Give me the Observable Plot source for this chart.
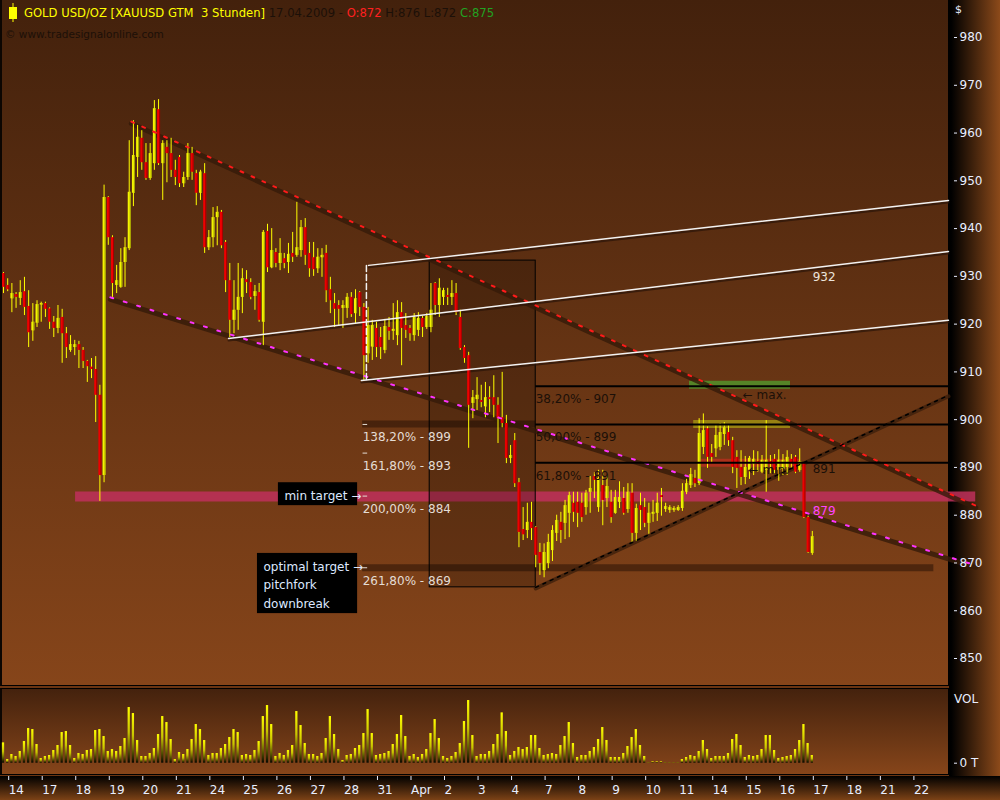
<!DOCTYPE html>
<html><head><meta charset="utf-8">
<script src="https://cdn.jsdelivr.net/npm/d3@7"></script>
<script src="https://cdn.jsdelivr.net/npm/@observablehq/plot@0.6"></script>
<style>
body{margin:0;background:#6b3512;}
#wrap{position:relative;width:1000px;height:800px;overflow:hidden;background:#6b3512;font-family:"DejaVu Sans",sans-serif;}
.bg{position:absolute;box-sizing:border-box;}
#main-bg{left:0;top:0;width:949px;height:686px;background:linear-gradient(#43210c,#86451a);border-left:2px solid #0c0602;border-right:1px solid #000;border-bottom:1px solid #000;}
#vol-bg{left:0;top:688px;width:949px;height:87px;background:linear-gradient(#44220d,#86451a);border:1px solid #000;border-left:2px solid #0c0602;}
#axis-col{left:949px;top:0;width:51px;height:777px;background:linear-gradient(to right,#000 4%,#8c4a1a 100%);}
#axis-row{left:0;top:776px;width:1000px;height:24px;background:linear-gradient(#000,#7c4216);}
.plot{position:absolute;left:0;}
.lbl{position:absolute;color:#e8eeff;font-size:12px;white-space:pre;}
#t1{position:absolute;left:24px;top:6px;font-size:11.6px;white-space:pre;}
#t2{position:absolute;left:5px;top:28px;font-size:10.5px;color:#1c1008;white-space:pre;}
#icon{position:absolute;left:8px;top:3px;}
</style></head>
<body><div id="wrap">
<div class="bg" id="main-bg"></div>
<div class="bg" id="vol-bg"></div>
<div class="bg" id="axis-col"></div>
<div class="bg" id="axis-row"></div>
</div>
<script>
// ---------- data ----------
const dayLabels = ["14","17","18","19","20","21","24","25","26","27","28","31","Apr","2","3","4","7","8","9","10","11","14","15","16","17","18","21","22"];
const priceTicks = [850,860,870,880,890,900,910,920,930,940,950,960,970,980];

const open = [
930.6,928.1,925.3,926.2,925.4,926.8,923.7,918.6,920.2,924.0,
924.3,923.2,920.4,919.1,921.4,918.0,914.5,915.1,915.7,914.5,
912.2,911.0,910.5,905.1,888.3,946.5,938.1,928.1,927.7,932.9,
935.8,947.4,954.9,958.9,953.8,950.5,953.6,964.9,953.6,957.0,
955.7,952.2,954.9,949.4,950.7,955.7,951.5,947.4,951.5,936.0,
938.1,942.3,943.4,937.1,929.1,920.8,922.9,925.6,929.3,928.7,
925.8,926.6,920.4,939.4,931.8,935.0,932.7,933.7,932.9,934.8,
934.4,935.4,940.2,934.8,933.9,931.6,933.9,934.8,927.2,924.3,
923.9,923.3,923.3,925.6,922.2,926.6,923.5,913.8,915.2,919.1,
917.2,914.5,919.3,918.5,917.6,922.4,919.7,919.1,917.6,918.7,
921.2,919.3,919.3,928.5,923.9,925.6,926.0,925.6,926.4,921.4,
915.1,913.4,903.4,904.2,904.0,902.7,904.6,904.6,903.0,900.4,
899.2,891.9,895.6,886.8,877.0,876.8,878.5,877.4,872.2,868.4,
869.9,872.6,876.2,878.5,878.3,880.4,882.5,882.7,882.5,881.6,
884.8,888.1,881.6,886.2,883.5,882.7,880.4,882.7,883.5,881.2,
884.6,876.2,882.0,881.6,878.3,880.2,880.4,884.1,881.2,881.0,
881.0,881.0,881.4,884.8,886.2,887.7,886.6,894.2,898.1,892.9,
893.9,894.2,896.9,897.3,895.6,892.1,890.0,887.9,889.4,890.6,
891.2,889.0,889.4,891.2,891.7,889.4,889.6,890.0,891.7,892.1,
889.4,890.8,879.5,872.0];
const high = [
930.8,929.5,928.5,926.6,929.1,929.8,927.0,924.3,924.9,924.6,
924.6,923.4,921.6,923.9,923.1,919.3,917.6,916.6,916.4,915.1,
912.4,912.8,913.2,907.2,949.1,946.7,938.5,932.3,935.8,938.1,
958.4,962.6,961.6,960.5,957.8,957.8,966.8,967.0,958.4,958.4,
958.9,954.3,955.3,951.8,957.8,957.0,952.2,952.2,953.6,939.6,
944.4,944.6,943.8,937.5,932.7,929.1,932.7,931.6,931.2,929.5,
928.1,928.5,939.6,940.9,940.0,935.8,937.9,934.8,936.9,939.2,
945.5,941.7,942.1,937.1,937.1,935.8,935.8,936.5,929.8,926.4,
924.9,924.9,926.4,926.6,927.2,926.8,924.3,923.5,920.8,920.4,
919.3,921.0,921.4,924.3,924.9,924.5,922.2,919.7,922.2,922.4,
921.6,922.2,928.5,928.7,929.5,927.5,927.5,929.1,928.5,922.9,
915.5,914.1,906.1,908.8,907.2,907.8,906.9,909.2,904.6,909.9,
900.9,894.6,897.1,887.7,881.6,882.5,882.7,877.6,874.1,874.0,
876.0,877.8,880.0,880.6,883.1,884.8,884.8,884.8,884.6,885.2,
888.1,888.9,889.4,889.4,888.3,885.2,885.2,887.0,885.8,886.6,
886.6,882.3,884.6,883.5,882.5,883.1,884.6,885.6,882.5,882.0,
881.8,882.0,886.6,887.5,889.8,889.4,900.2,901.2,898.5,894.8,
899.0,899.2,899.4,898.8,896.3,893.5,893.5,892.3,892.3,893.5,
893.3,892.5,899.8,892.5,892.7,893.7,892.7,893.5,892.7,892.5,
893.9,891.0,879.8,876.6];
const low = [
926.4,926.8,922.4,923.3,923.9,921.8,915.1,916.4,919.3,920.4,
921.4,918.9,917.2,918.0,911.8,912.8,914.1,913.4,910.7,910.7,
907.8,908.6,899.4,882.9,886.8,936.5,925.6,926.4,927.5,927.7,
935.4,944.6,950.7,952.2,950.1,950.1,952.2,953.2,945.9,949.6,
950.7,949.0,948.6,948.6,950.1,950.1,944.8,945.9,934.8,935.4,
936.0,936.4,935.8,926.6,917.2,918.0,918.7,922.2,926.4,925.1,
922.9,920.4,915.5,930.8,931.6,931.8,931.2,931.6,930.6,932.9,
934.0,934.0,932.3,929.8,930.0,930.6,929.8,924.5,922.2,919.3,
919.5,919.1,921.2,921.4,920.0,921.6,908.2,911.8,912.4,913.0,
912.6,913.8,916.6,916.6,915.5,911.3,917.0,916.4,916.4,917.4,
917.2,918.9,918.2,921.8,921.4,923.9,923.9,923.9,921.8,914.5,
911.8,894.0,900.2,901.9,902.5,900.4,901.5,900.4,895.0,898.3,
890.8,890.8,885.8,873.2,874.7,875.1,874.7,869.0,867.4,866.9,
868.8,870.3,874.5,874.1,874.9,875.3,878.5,877.4,878.5,880.0,
880.4,883.5,880.6,877.8,881.6,878.3,880.2,881.4,880.0,880.4,
874.1,874.5,876.8,877.4,876.0,878.5,878.7,879.8,880.6,880.4,
880.6,880.8,880.8,884.3,885.6,885.8,886.2,892.7,889.8,891.0,
892.1,893.5,894.6,894.4,888.7,885.6,886.2,886.4,887.5,888.3,
889.0,888.7,884.8,888.7,888.7,887.1,888.3,888.3,889.6,888.7,
889.0,879.3,872.0,871.6];
const close = [
927.7,927.2,926.4,925.6,926.6,923.5,918.2,920.4,924.1,924.3,
923.1,920.4,919.1,921.2,918.0,915.1,915.7,915.7,914.5,912.2,
911.1,910.5,905.1,888.3,946.5,938.1,928.5,929.1,932.9,936.0,
947.6,955.3,959.1,953.8,950.5,955.7,965.1,953.6,957.8,955.7,
952.2,950.7,949.4,950.7,955.7,951.8,947.4,951.8,936.0,938.1,
942.3,943.4,936.4,929.1,920.8,922.9,925.6,929.5,928.7,925.6,
926.8,920.8,939.2,931.8,935.4,932.7,934.8,932.7,934.6,934.0,
936.0,940.2,934.4,931.6,931.4,934.0,934.4,927.0,924.9,923.1,
923.1,923.9,925.6,922.0,925.3,923.5,913.4,919.7,919.7,915.1,
915.1,919.5,918.5,918.9,922.4,919.1,918.7,918.0,921.4,921.2,
919.3,921.6,922.9,923.9,927.5,927.0,925.6,926.4,922.4,914.9,
912.8,903.0,904.6,905.1,903.6,904.6,904.2,903.0,900.2,899.2,
891.9,892.5,886.6,876.4,875.9,878.5,877.2,871.6,869.9,872.2,
874.3,876.8,878.9,876.8,882.0,884.1,880.6,880.4,879.5,884.6,
885.6,887.3,887.7,883.1,886.0,879.5,883.7,883.7,880.4,884.8,
876.2,881.4,881.0,878.3,880.4,880.6,882.5,883.7,881.8,881.6,
881.4,881.6,885.0,886.6,888.5,886.6,897.1,897.7,892.1,892.1,
896.7,897.3,898.3,895.6,890.0,889.8,887.9,890.0,891.9,891.7,
890.6,891.5,891.5,890.6,889.4,891.5,891.5,892.1,891.0,889.0,
891.2,879.5,872.2,875.5];
const volume = [
61,11,26,20,35,65,104,101,56,14,
20,23,38,53,92,95,53,14,29,26,
38,41,98,101,80,35,41,35,50,74,
167,149,68,20,20,29,44,86,140,122,
71,11,32,26,41,71,116,101,68,23,
29,29,44,56,77,101,92,23,26,23,
38,65,140,173,116,20,29,23,38,53,
155,113,59,26,26,20,29,74,140,86,
41,8,23,26,44,53,89,161,89,23,
26,29,35,56,86,143,80,20,26,17,
26,41,89,131,74,20,14,20,32,59,
125,188,83,20,26,26,35,56,86,151,
95,23,35,47,41,47,83,83,44,23,
26,29,26,53,80,122,59,17,23,23,
35,47,71,107,68,17,17,17,29,50,
77,101,53,20,2,4,4,4,2,2,
2,2,11,17,23,20,35,68,41,14,
20,20,20,29,71,86,53,17,23,20,
23,41,83,83,38,14,17,20,23,41,
68,116,59,23];

// drawing lines, in candle index / price units
const upperTrend = [[30.5, 962.4], [232.0, 882.0]];
const lowerTrend = [[25.5, 925.6], [232.0, 869.5]];
const forkUpper  = [[87.1, 932.3], [225.5, 945.9]];
const forkMedian = [[53.7, 917.0], [225.5, 935.2]];
const forkLower  = [[85.4, 908.2], [225.5, 920.8]];
const forkHandle = [[86.6, 932.3], [86.6, 908.2]];
const riseLine   = [[127.0, 864.9], [225.5, 905.1]];
const rangeBox   = [{x1: 101.7, x2: 127.0, y1: 864.9, y2: 933.3}];
const fibRetrace = [{pct: "38,20%", level: 907}, {pct: "50,00%", level: 899}, {pct: "61,80%", level: 891}];
const fibExt     = [{pct: "138,20%", level: 899}, {pct: "161,80%", level: 893}, {pct: "200,00%", level: 884}, {pct: "261,80%", level: 869}];
const minTarget  = [{level: 883.9, from: 17.2, to: 232.0}];
const shadeBands = [{level: 899.1, from: 85.7, to: 127.0}, {level: 869.0, from: 85.7, to: 222.0}];
const zones      = [{kind: "max", level: 907.3, from: 163.7, to: 187.8}, {kind: "mid", level: 899.1, from: 164.7, to: 187.8}, {kind: "min", level: 891.0, from: 165.9, to: 190.2}];
const callouts   = [{text: "min target →", x1: 65.6, x2: 84.5, y1: 882.0, y2: 886.8},
                    {text: "optimal target →\npitchfork\ndownbreak", x1: 60.6, x2: 84.5, y1: 859.4, y2: 872.0}];
const darkNotes  = [{text: "← max.", x: 176.4, y: 905.1}, {text: "← min.", x: 177.8, y: 889.4}, {text: "891", x: 193.1, y: 889.6}];
const lightNotes = [{text: "932", x: 193.1, y: 929.8}];
const pinkNotes  = [{text: "879", x: 193.1, y: 880.8}];

// ---------- build ----------
const candles = open.map((o, i) => ({i, o, h: high[i], l: low[i], c: close[i]}));
const vols = volume.map((v, i) => ({i, v}));
const dayTicks = dayLabels.map((_, k) => 1 + 8 * k);
const FONT = '"DejaVu Sans", sans-serif';
const AX = "#e8eeff";
const xDomain = [0, 225.5];
const pt = {x: d => d[0], y: d => d[1]};

const main = Plot.plot({
  width: 1000, height: 688,
  marginLeft: 3, marginRight: 52, marginTop: 0, marginBottom: 3,
  x: {domain: xDomain, axis: null},
  y: {domain: [844.35, 987.75], axis: null},
  style: {background: "transparent", fontFamily: FONT, fontSize: "11px", overflow: "visible"},
  marks: [
    Plot.ruleY(minTarget, {y: "level", x1: "from", x2: "to", stroke: "#c0305c", strokeOpacity: 0.85, strokeWidth: 10}),
    Plot.ruleY(shadeBands, {y: "level", x1: "from", x2: "to", stroke: "#2a1206", strokeOpacity: 0.55, strokeWidth: 7}),
    Plot.ruleY(zones, {y: "level", x1: "from", x2: "to", strokeWidth: 8, strokeOpacity: 0.85,
      stroke: d => ({max: "#52922a", mid: "#a08e12", min: "#b4301c"})[d.kind]}),
    Plot.rect(rangeBox, {x1: "x1", x2: "x2", y1: "y1", y2: "y2", fill: "#000", fillOpacity: 0.2, stroke: "#000", strokeWidth: 1}),
    // shadows of trend lines
    Plot.line(upperTrend, {...pt, stroke: "#351a09", strokeOpacity: 0.8, strokeWidth: 5, dy: 2}),
    Plot.line(lowerTrend, {...pt, stroke: "#351a09", strokeOpacity: 0.8, strokeWidth: 5, dy: 2}),
    Plot.line(riseLine, {...pt, stroke: "#3d1f0b", strokeOpacity: 0.8, strokeWidth: 4, dy: 1}),
    Plot.line(forkUpper, {...pt, stroke: "#2a1408", strokeOpacity: 0.7, strokeWidth: 2, dy: 2}),
    Plot.line(forkMedian, {...pt, stroke: "#2a1408", strokeOpacity: 0.7, strokeWidth: 2, dy: 2}),
    Plot.line(forkLower, {...pt, stroke: "#2a1408", strokeOpacity: 0.7, strokeWidth: 2, dy: 2}),
    // candles
    Plot.ruleX(candles, {x: "i", y1: "l", y2: "h", stroke: "#ffff00", strokeWidth: 1}),
    Plot.ruleX(candles, {x: "i", y1: "o", y2: "c", strokeWidth: 3, stroke: d => d.c >= d.o ? "#f4f400" : "#ee0000"}),
    Plot.ruleX(candles, {x: "i", y1: "o", y2: "c", strokeWidth: 1, dx: 1, stroke: d => d.c >= d.o ? "#9c9c00" : "#a00000"}),
    // lines on top
    Plot.line(upperTrend, {...pt, stroke: "#ff1a1a", strokeWidth: 2, strokeDasharray: "3,9"}),
    Plot.line(lowerTrend, {...pt, stroke: "#ff33ff", strokeWidth: 2, strokeDasharray: "3,11"}),
    Plot.line(riseLine, {...pt, stroke: "#000", strokeWidth: 1.5, strokeDasharray: "3,5"}),
    Plot.line(forkUpper, {...pt, stroke: "#f2f2f2", strokeWidth: 1.5}),
    Plot.line(forkMedian, {...pt, stroke: "#f2f2f2", strokeWidth: 1.5}),
    Plot.line(forkLower, {...pt, stroke: "#f2f2f2", strokeWidth: 1.5}),
    Plot.line(forkHandle, {...pt, stroke: "#f2f2f2", strokeWidth: 1.5, strokeDasharray: "6,3"}),
    Plot.ruleY(fibRetrace, {y: "level", x1: rangeBox[0].x2, x2: xDomain[1], stroke: "#000", strokeWidth: 2}),
    // labels
    Plot.text(fibRetrace, {x: rangeBox[0].x2, y: "level", text: d => `${d.pct} - ${d.level}`, textAnchor: "start", dy: 13, fill: "#1c1008", fontSize: 12}),
    Plot.ruleY(fibExt, {y: "level", x1: 85.8, x2: 86.9, stroke: "#e4dcd4", strokeWidth: 1}),
    Plot.text(fibExt, {x: 85.7, y: "level", text: d => `${d.pct} - ${d.level}`, textAnchor: "start", dy: 13, fill: "#e4dcd4", fontSize: 12}),
    Plot.rect(callouts, {x1: "x1", x2: "x2", y1: "y1", y2: "y2", fill: "#000"}),
    Plot.text(callouts, {x: "x1", y: d => (d.y1 + d.y2) / 2, text: "text", textAnchor: "start", dx: 6, lineHeight: 1.55, fill: "#dde8ff", fontSize: 12}),
    Plot.text(darkNotes, {x: "x", y: "y", text: "text", textAnchor: "start", fill: "#1c1008", fontSize: 12}),
    Plot.text(lightNotes, {x: "x", y: "y", text: "text", textAnchor: "start", fill: "#ece4dc", fontSize: 12}),
    Plot.text(pinkNotes, {x: "x", y: "y", text: "text", textAnchor: "start", fill: "#ff44ff", fontSize: 12}),
    Plot.axisY(priceTicks, {anchor: "right", tickSize: 3, tickPadding: 3, dx: 5, color: AX, fontSize: 12, label: null})
  ]
});
main.classList.add("plot");
main.style.top = "0px";

const volDefs = () => {
  const g = d3.create("svg:defs");
  const lg = g.append("linearGradient").attr("id", "volgrad").attr("x1", 0).attr("y1", 1).attr("x2", 0).attr("y2", 0);
  lg.append("stop").attr("offset", "0%").attr("stop-color", "#0a0800");
  lg.append("stop").attr("offset", "55%").attr("stop-color", "#c8c400");
  lg.append("stop").attr("offset", "100%").attr("stop-color", "#ffff00");
  return g.node();
};

const volPlot = Plot.plot({
  width: 1000, height: 112,
  marginLeft: 3, marginRight: 52, marginTop: 0, marginBottom: 24,
  x: {domain: xDomain, axis: null},
  y: {domain: [-39.9, 224.1], axis: null},
  style: {background: "transparent", fontFamily: FONT, fontSize: "11px", overflow: "visible"},
  marks: [
    volDefs,
    Plot.rect(vols, {x1: d => d.i - 0.27, x2: d => d.i + 0.27, y1: 0, y2: "v", fill: "url(#volgrad)"}),
    Plot.axisY([0], {anchor: "right", tickSize: 3, tickPadding: 3, dx: 5, tickFormat: () => "0 T", color: AX, fontSize: 12, label: null}),
    Plot.axisX(dayTicks, {anchor: "bottom", tickSize: 4, tickPadding: 5, tickFormat: d => dayLabels[(d - 1) / 8], textAnchor: "start", dx: 1, color: AX, fontSize: 12, label: null})
  ]
});
volPlot.classList.add("plot");
volPlot.style.top = "688px";

const wrap = document.getElementById("wrap");
wrap.appendChild(main);
wrap.appendChild(volPlot);

// header and axis captions
const add = (html) => { const t = document.createElement("template"); t.innerHTML = html.trim(); wrap.appendChild(t.content.firstChild); };
add('<svg id="icon" width="12" height="20"><line x1="5" y1="0" x2="5" y2="19" stroke="#ffff00"/><rect x="1" y="4" width="8" height="12" fill="#ffff00"/></svg>');
add('<div id="t1"><span style="color:#ffff00">GOLD USD/OZ [XAUUSD GTM  3 Stunden]</span><span style="color:#1c1008"> 17.04.2009 - </span><span style="color:#ff2020">O:872</span><span style="color:#1c1008"> H:876 L:872 </span><span style="color:#22a322">C:875</span></div>');
add('<div id="t2">© www.tradesignalonline.com</div>');
add('<div class="lbl" style="left:955px;top:3px;font-size:11px">$</div>');
add('<div class="lbl" style="left:954px;top:692px;font-size:12px">VOL</div>');
</script>
</body></html>
